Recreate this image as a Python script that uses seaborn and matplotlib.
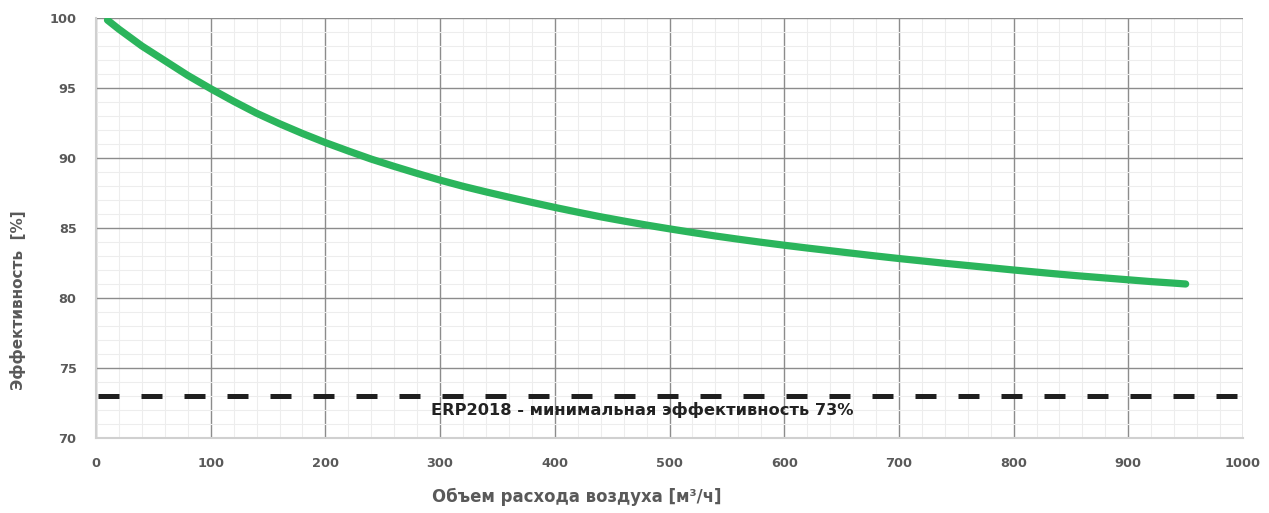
import numpy as np
import pandas as pd
import matplotlib
matplotlib.use("Agg")
import matplotlib.pyplot as plt
import seaborn as sns
from matplotlib.ticker import MultipleLocator

# кривая эффективности
flow = [10, 20, 40, 60, 80, 100, 120, 140, 160, 180, 200, 220, 240, 260, 280, 300,
        320, 340, 360, 380, 400, 420, 440, 460, 480, 500, 520, 540, 560, 580, 600,
        620, 640, 660, 680, 700, 720, 740, 760, 780, 800, 820, 840, 860, 880, 900,
        920, 940, 950]
eff = [99.85, 99.2, 98.0, 96.95, 95.9, 94.95, 94.05, 93.2, 92.45, 91.75, 91.1, 90.5,
       89.92, 89.4, 88.9, 88.42, 87.98, 87.58, 87.2, 86.83, 86.47, 86.13, 85.8, 85.5,
       85.21, 84.94, 84.68, 84.43, 84.2, 83.98, 83.77, 83.57, 83.38, 83.19, 83.0, 82.82,
       82.65, 82.48, 82.32, 82.16, 82.0, 81.85, 81.7, 81.56, 81.43, 81.3, 81.17,
       81.06, 81.0]

# минимальная эффективность ERP2018
erp_x = [2, 1000]
erp_y = [73, 73]
erp_label = "ERP2018 - минимальная эффективность 73%"

sns.set_theme(style="white")
plt.rcParams['font.family'] = ['DejaVu Sans']

fig = plt.figure(figsize=(12.69, 5.13), dpi=100)
ax = fig.add_axes([96/1269, 1-438/513, (1243-96)/1269, (438-18)/513])

df = pd.DataFrame({"flow": flow, "eff": eff})
sns.lineplot(data=df, x="flow", y="eff", ax=ax, color="#2BB55C", linewidth=5.2,
             solid_capstyle="round", solid_joinstyle="round", zorder=4)
erp = pd.DataFrame({"x": erp_x, "y": erp_y})
sns.lineplot(data=erp, x="x", y="y", ax=ax, color="#1f1f1f", linewidth=3.6,
             dashes=False, zorder=3)
ax.lines[-1].set_dashes((4.2, 4.4))
ax.lines[-1].set_dash_capstyle("butt")

ax.text(292, 72.0, erp_label, ha="left", va="center", fontsize=11.7,
        fontweight="bold", color="#222222", zorder=5)

ax.set_xlim(0, 1000)
ax.set_ylim(70, 100)
ax.xaxis.set_major_locator(MultipleLocator(100))
ax.xaxis.set_minor_locator(MultipleLocator(20))
ax.yaxis.set_major_locator(MultipleLocator(5))
ax.yaxis.set_minor_locator(MultipleLocator(1))
ax.grid(which="major", color="#8c8c8c", linewidth=1.0, zorder=1)
ax.grid(which="minor", color="#ededed", linewidth=0.8, zorder=0)
ax.set_axisbelow(True)

for s in ["top", "right"]:
    ax.spines[s].set_visible(False)
for s in ["left", "bottom"]:
    ax.spines[s].set_color("#d0d0d0")
    ax.spines[s].set_linewidth(1.5)

ax.tick_params(axis="both", which="both", length=0)
ax.tick_params(axis="x", pad=14)
ax.tick_params(axis="y", pad=14)
for lab in ax.get_xticklabels() + ax.get_yticklabels():
    lab.set_fontsize(9.3)
    lab.set_fontweight("bold")
    lab.set_color("#595959")

ax.set_xlabel("")
ax.set_ylabel("")
fig.text(577/1269, 1-497/513, "Объем расхода воздуха [м³/ч]", ha="center", va="center",
         fontsize=11.9, fontweight="bold", color="#595959")
fig.text(18/1269, 1-300/513, "Эффективность  [%]", ha="center", va="center", rotation=90,
         fontsize=11, fontweight="bold", color="#595959")

fig.savefig("out.png", dpi=100)
